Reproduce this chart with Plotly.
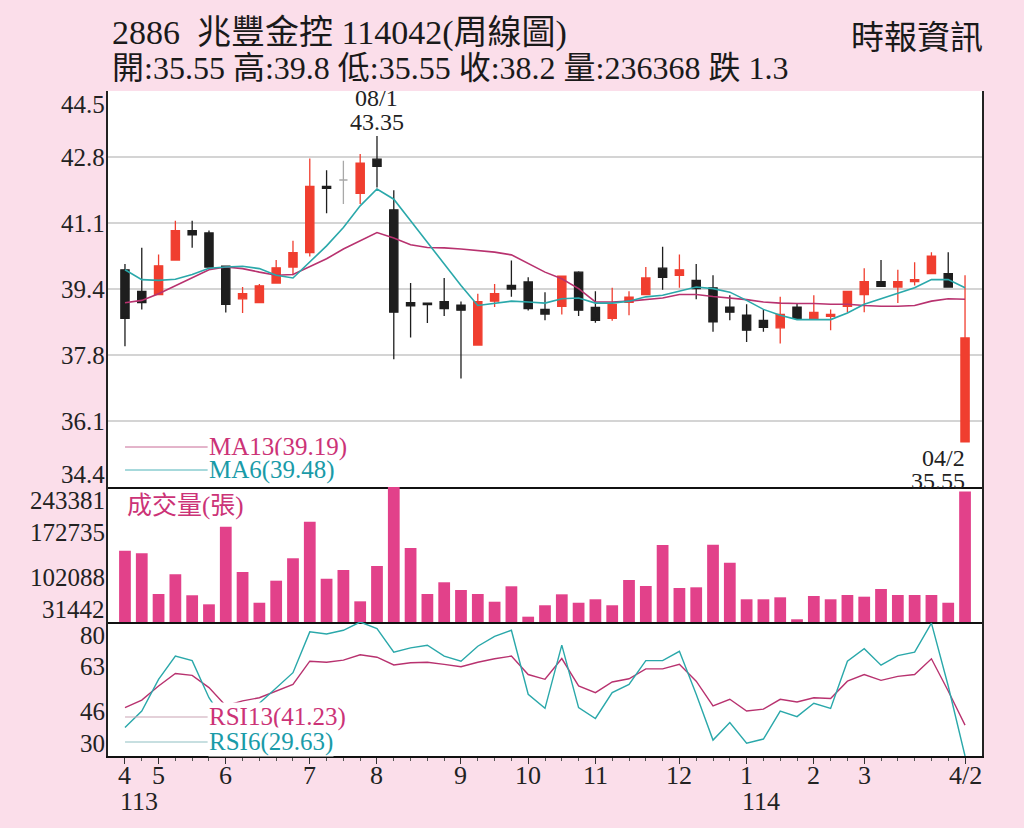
import plotly.graph_objects as go
from plotly.subplots import make_subplots

# weekly bars, oldest first (113/04 .. 114/04/2)
week_idx = list(range(51))

opens = [39.94, 39.39, 39.31, 40.19, 40.94, 40.88, 40.03, 39.20, 39.10, 39.60,
         40.01, 40.38, 42.07, 42.23, 41.89, 42.76, 41.47, 39.10, 39.09, 39.13,
         39.04, 38.02, 39.14, 39.54, 39.63, 38.93, 39.01, 39.88, 38.98, 38.70,
         39.11, 39.31, 39.98, 39.80, 39.67, 39.48, 38.99, 38.78, 38.65, 38.46,
         38.99, 38.70, 38.75, 39.01, 39.31, 39.64, 39.50, 39.64, 39.84, 39.84,
         35.55]
highs = [40.09, 40.50, 40.33, 41.19, 41.19, 40.94, 40.05, 39.50, 39.58, 40.19,
         40.68, 42.78, 42.48, 42.72, 42.89, 43.35, 41.97, 39.60, 39.10, 39.73,
         39.13, 39.33, 39.58, 40.18, 39.75, 39.37, 39.78, 39.90, 39.39, 39.48,
         39.39, 40.01, 40.53, 40.33, 40.09, 39.80, 39.29, 39.06, 38.93, 39.25,
         39.09, 39.29, 38.93, 39.39, 39.98, 40.19, 39.94, 40.13, 40.39, 40.39,
         39.80]
lows = [37.99, 38.93, 39.31, 40.19, 40.50, 40.01, 38.85, 38.84, 39.10, 39.60,
        39.80, 40.28, 41.38, 41.62, 41.62, 42.04, 37.66, 38.21, 38.58, 38.76,
        37.17, 38.02, 38.99, 39.25, 38.90, 38.65, 38.80, 38.76, 38.59, 38.64,
        38.78, 39.31, 39.43, 39.48, 39.19, 38.36, 38.65, 38.10, 38.36, 38.06,
        38.70, 38.70, 38.40, 38.85, 38.86, 39.52, 39.09, 39.54, 39.84, 39.50,
        35.55]
closes = [38.70, 39.10, 40.04, 40.94, 40.83, 40.01, 39.06, 39.33, 39.53, 39.99,
          40.38, 42.07, 42.02, 42.23, 42.66, 42.58, 38.86, 39.02, 39.05, 38.95,
          38.91, 39.13, 39.33, 39.45, 38.95, 38.81, 39.78, 38.91, 38.65, 39.06,
          39.24, 39.73, 39.75, 39.94, 39.46, 38.61, 38.86, 38.40, 38.47, 38.80,
          38.70, 38.85, 38.80, 39.39, 39.64, 39.52, 39.64, 39.69, 40.29, 39.50,
          38.20]

ma13 = [39.10, 39.16, 39.33, 39.54, 39.75, 39.94, 40.01, 39.97, 39.88, 39.80,
        39.82, 40.02, 40.22, 40.47, 40.68, 40.89, 40.75, 40.58, 40.51, 40.50,
        40.47, 40.43, 40.39, 40.32, 40.09, 39.88, 39.71, 39.46, 39.12, 39.12,
        39.14, 39.18, 39.22, 39.31, 39.31, 39.26, 39.22, 39.18, 39.12, 39.09,
        39.08, 39.08, 39.06, 39.06, 39.03, 39.01, 39.01, 39.03, 39.14, 39.20,
        39.19]
ma6 = [39.94, 39.69, 39.67, 39.70, 39.82, 39.98, 40.01, 40.03, 39.97, 39.80,
       39.73, 40.13, 40.55, 41.02, 41.57, 42.00, 41.74, 41.19, 40.64, 40.09,
       39.54, 39.03, 39.09, 39.14, 39.12, 39.09, 39.20, 39.22, 39.09, 39.09,
       39.14, 39.25, 39.29, 39.40, 39.50, 39.46, 39.37, 39.16, 38.93, 38.78,
       38.67, 38.67, 38.67, 38.84, 39.06, 39.20, 39.33, 39.48, 39.69, 39.69,
       39.48]

volume = [143400, 139300, 75400, 106300, 73400, 59200, 181100, 109900, 61700, 96300,
          131500, 188900, 99400, 113100, 63900, 119400, 243381, 147600, 75400, 93800,
          81700, 75400, 63300, 87500, 39800, 57700, 74900, 61700, 67100, 57700,
          97400, 88000, 152300, 84800, 85900, 152800, 124500, 67100, 67100, 70200,
          35700, 72300, 67100, 73800, 71200, 83300, 73800, 73800, 73800, 61700,
          236368]

rsi13 = [47.8, 50.6, 55.9, 60.6, 59.9, 55.3, 48.5, 50.3, 51.5, 54.0,
         56.5, 65.2, 64.8, 65.6, 67.6, 66.7, 63.8, 64.6, 64.8, 64.0,
         63.1, 64.8, 66.1, 67.1, 60.2, 58.4, 66.2, 55.9, 53.4, 57.4,
         58.6, 62.3, 62.3, 64.0, 57.7, 48.4, 50.9, 46.5, 47.2, 50.9,
         49.9, 51.5, 51.2, 57.7, 60.2, 58.0, 59.5, 60.2, 66.1, 54.0,
         41.23]
rsi6 = [40.3, 46.5, 58.4, 67.1, 65.4, 51.5, 42.0, 45.0, 49.4, 55.3,
        60.9, 76.2, 75.4, 76.8, 79.9, 77.4, 68.6, 70.2, 71.2, 67.1,
        65.2, 70.8, 74.5, 76.8, 52.8, 47.5, 71.2, 47.8, 43.7, 53.4,
        56.5, 65.4, 65.4, 68.9, 52.8, 35.6, 42.2, 34.4, 36.0, 46.5,
        44.4, 49.4, 47.5, 65.2, 69.9, 63.7, 67.3, 68.6, 79.5, 55.9,
        29.63]

month_pos = [0, 2, 6, 11, 15, 20, 24, 28, 33, 37, 41, 44, 50]
month_text = ["4", "5", "6", "7", "8", "9", "10", "11", "12", "1", "2", "3", "4/2"]
year_pos = [0, 37]
year_text = ["113", "114"]

price_ticks = ["34.4", "36.1", "37.8", "39.4", "41.1", "42.8", "44.5"]
price_lo, price_hi = 34.4, 44.5
vol_ticks = ["31442", "102088", "172735", "243381"]
vol_lo, vol_hi = 31442, 243381
rsi_ticks = ["30", "46", "63", "80"]
rsi_lo, rsi_hi = 29.63, 79.9

# colours
BG = "#fbdeea"
RED = "#f03e2f"
BLACK = "#1e1e1e"
GRAY = "#a8a8a8"
VOL = "#e2418a"
MAG = "#b8326f"
TEAL = "#2aa8aa"
MAG_TXT = "#cc3377"
TEAL_TXT = "#1a9ba8"
FONT = "Liberation Serif, Noto Sans CJK TC, serif"

fig = make_subplots(rows=3, cols=1, shared_xaxes=True, vertical_spacing=0,
                    row_heights=[396, 135, 134])


def candle(sel, color):
    idx = [i for i in week_idx if sel(opens[i], closes[i])]
    style = dict(line=dict(color=color, width=1.3), fillcolor=color)
    return go.Candlestick(x=idx,
                          open=[opens[i] for i in idx],
                          high=[highs[i] for i in idx],
                          low=[lows[i] for i in idx],
                          close=[closes[i] for i in idx],
                          increasing=style, decreasing=style,
                          showlegend=False, hoverinfo="skip")


fig.add_trace(candle(lambda o, c: c > o, RED), row=1, col=1)
fig.add_trace(candle(lambda o, c: c < o, BLACK), row=1, col=1)
fig.add_trace(candle(lambda o, c: c == o, GRAY), row=1, col=1)

fig.add_trace(go.Scatter(x=week_idx, y=ma13, mode="lines",
                         line=dict(color=MAG, width=1.6), showlegend=False),
              row=1, col=1)
fig.add_trace(go.Scatter(x=week_idx, y=ma6, mode="lines",
                         line=dict(color=TEAL, width=1.6), showlegend=False),
              row=1, col=1)

fig.add_trace(go.Bar(x=week_idx, y=volume, width=0.7, marker_color=VOL,
                     marker_line_width=0, showlegend=False),
              row=2, col=1)

fig.add_trace(go.Scatter(x=week_idx, y=rsi13, mode="lines",
                         line=dict(color=MAG, width=1.4), showlegend=False),
              row=3, col=1)
fig.add_trace(go.Scatter(x=week_idx, y=rsi6, mode="lines",
                         line=dict(color=TEAL, width=1.4), showlegend=False),
              row=3, col=1)

# axes
fig.update_xaxes(range=[-1.01, 51.01], showgrid=False, zeroline=False,
                 showline=True, linecolor="#111", linewidth=1.5,
                 rangeslider_visible=False, ticks="", showticklabels=False)
fig.update_xaxes(row=3, col=1, tickmode="array", tickvals=month_pos,
                 ticks="outside", ticklen=6, tickcolor="#333",
                 showticklabels=False,
                 minor=dict(tickmode="array", tickvals=week_idx, ticks="outside",
                            ticklen=3, tickcolor="#555"))


def ladder(lo, hi, n):
    return [lo + (hi - lo) * k / (n - 1) for k in range(n)]


price_vals = ladder(price_lo, price_hi, len(price_ticks))
vol_vals = ladder(vol_lo, vol_hi, len(vol_ticks))
rsi_vals = ladder(rsi_lo, rsi_hi, len(rsi_ticks))

fig.update_yaxes(showline=True, mirror=True, linecolor="#222", linewidth=1.5,
                 zeroline=False, showticklabels=False, ticks="")
fig.update_yaxes(row=1, col=1, range=[price_lo, price_hi], tickmode="array",
                 tickvals=price_vals, showgrid=True, gridcolor="#d4d4d4",
                 gridwidth=1.5)
fig.update_yaxes(row=2, col=1, range=[vol_lo, vol_hi], showgrid=False)
fig.update_yaxes(row=3, col=1, range=[rsi_lo, rsi_hi], showgrid=False)

annotations = []


def axis_labels(yref, vals, texts):
    n = len(vals)
    for k, (v, t) in enumerate(zip(vals, texts)):
        shift = 0
        if k == 0:
            shift = 13
        elif k == n - 1:
            shift = -13
        annotations.append(dict(xref="paper", x=0, xanchor="right", xshift=-1,
                                yref=yref, y=v, yanchor="middle", yshift=shift,
                                text=t, showarrow=False,
                                font=dict(family=FONT, size=25, color="#222")))


axis_labels("y", price_vals, price_ticks)
axis_labels("y2", vol_vals, vol_ticks)
axis_labels("y3", rsi_vals, rsi_ticks)

# month / year labels under the bottom axis
for p, t in zip(month_pos, month_text):
    annotations.append(dict(xref="x3", x=p, xanchor="center",
                            yref="paper", y=-0.029, yanchor="middle",
                            text=t, showarrow=False,
                            font=dict(family=FONT, size=26, color="#222")))
for p, t in zip(year_pos, year_text):
    annotations.append(dict(xref="x3", x=p, xanchor="left", xshift=-7,
                            yref="paper", y=-0.068, yanchor="middle",
                            text=t, showarrow=False,
                            font=dict(family=FONT, size=26, color="#222")))

# high / low marks
hi_i = highs.index(max(highs))
lo_i = lows.index(min(lows))
for txt, dy in (("08/1", 38), ("%.2f" % highs[hi_i], 14)):
    annotations.append(dict(xref="x", x=hi_i, yref="y", y=highs[hi_i],
                            yanchor="middle", yshift=dy, text=txt,
                            showarrow=False,
                            font=dict(family=FONT, size=24, color="#222")))
for txt, dy in (("04/2", -16), ("%.2f" % lows[lo_i], -39)):
    annotations.append(dict(xref="x", x=lo_i, xanchor="right", xshift=2,
                            yref="y", y=lows[lo_i], yanchor="middle", yshift=dy,
                            text=txt, showarrow=False,
                            font=dict(family=FONT, size=24, color="#222")))

# legends drawn as short lines + labels
shapes = []


def legend_item(y_px, color, line_color, text):
    y = (756 - y_px) / 665
    shapes.append(dict(type="line", xref="paper", yref="paper",
                       x0=0.0195, x1=0.114, y0=y, y1=y,
                       line=dict(color=line_color, width=1)))
    annotations.append(dict(xref="paper", x=0.114, xanchor="left",
                            yref="paper", y=y, yanchor="middle",
                            text=text, showarrow=False, bgcolor="white",
                            borderpad=0,
                            font=dict(family=FONT, size=25, color=color)))


legend_item(447, MAG_TXT, "#c86a96", "MA13(%.2f)" % ma13[-1])
legend_item(470, TEAL_TXT, "#4fb3b8", "MA6(%.2f)" % ma6[-1])
legend_item(717, MAG_TXT, "#c9a3b3", "RSI13(%.2f)" % rsi13[-1])
legend_item(742, TEAL_TXT, "#8fbfc2", "RSI6(%.2f)" % rsi6[-1])

annotations.append(dict(xref="paper", x=0.0195, xanchor="left",
                        yref="paper", y=(756 - 506) / 665, yanchor="middle",
                        text="成交量(張)", showarrow=False,
                        font=dict(family=FONT, size=25, color=MAG_TXT)))

# header
annotations.append(dict(xref="paper", x=0.002, xanchor="left",
                        yref="paper", y=(756 - 33) / 665, yanchor="middle",
                        text="2886\u00a0\u00a0兆豐金控 114042(周線圖)",
                        showarrow=False,
                        font=dict(family=FONT, size=34, color="#1a1a1a")))
annotations.append(dict(xref="paper", x=0.002, xanchor="left",
                        yref="paper", y=(756 - 68) / 665, yanchor="middle",
                        text="開:%.2f 高:%.1f 低:%.2f 收:%.1f 量:%d 跌 1.3"
                             % (opens[-1], highs[-1], lows[-1], closes[-1], volume[-1]),
                        showarrow=False,
                        font=dict(family=FONT, size=32, color="#1a1a1a")))
annotations.append(dict(xref="paper", x=1.004, xanchor="right",
                        yref="paper", y=(756 - 38) / 665, yanchor="middle",
                        text="時報資訊", showarrow=False,
                        font=dict(family=FONT, size=33, color="#1a1a1a")))

fig.update_layout(
    width=1024, height=828,
    margin=dict(l=108, r=42, t=91, b=72),
    paper_bgcolor=BG, plot_bgcolor="white",
    font=dict(family=FONT, color="#222"),
    showlegend=False, bargap=0.3,
    annotations=annotations, shapes=shapes,
)

fig.write_html("out.html", config={"displayModeBar": False},
               post_script="document.body.style.margin='0';"
                           "document.body.style.background='%s';" % BG)
